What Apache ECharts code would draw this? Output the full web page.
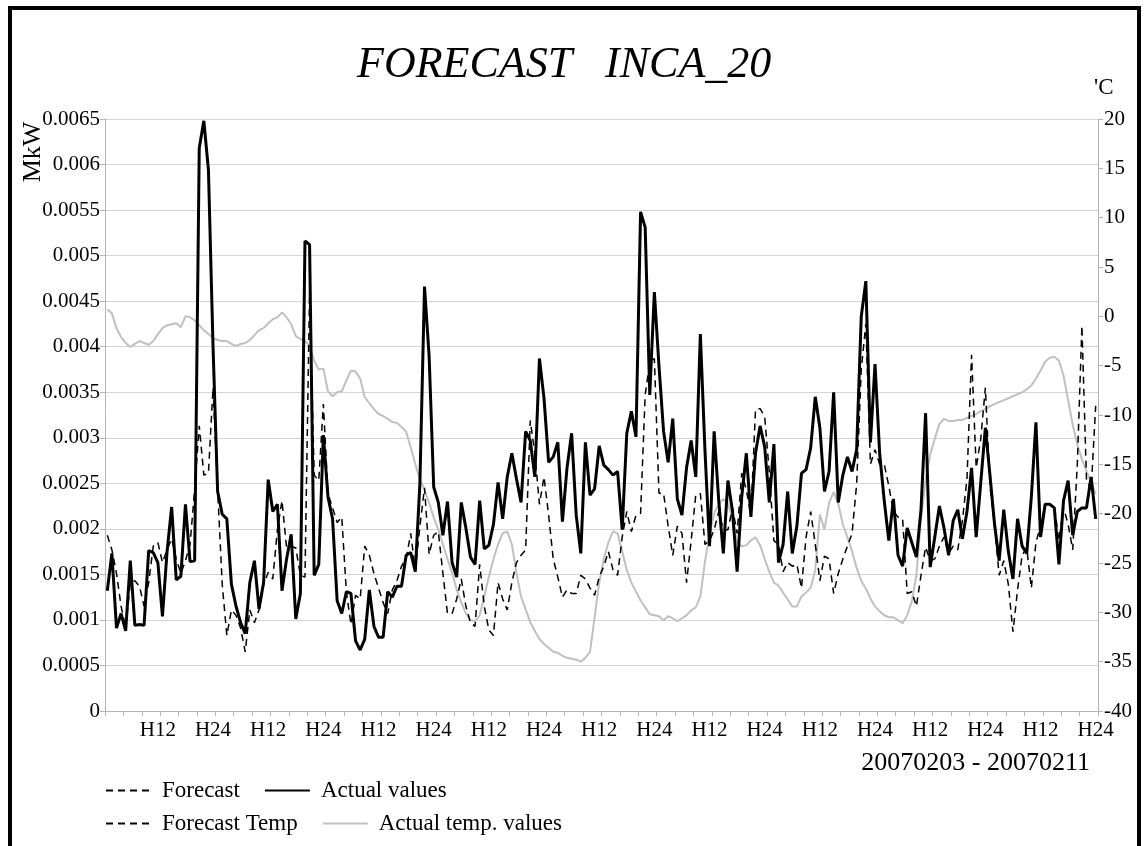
<!DOCTYPE html>
<html>
<head>
<meta charset="utf-8">
<script src="https://cdn.jsdelivr.net/npm/echarts@6/dist/echarts.min.js"></script>
<style>
html,body{margin:0;padding:0;background:#fff;}
#chart{width:1146px;height:846px;}
</style>
</head>
<body>
<div id="chart"></div>
<script>
// ---- data ----
const hourLabels = ['H1','H2','H3','H4','H5','H6','H7','H8','H9','H10','H11','H12',
  'H13','H14','H15','H16','H17','H18','H19','H20','H21','H22','H23','H24'];
const dayCount = 9; // 20070203 - 20070211
const categories = [];
for (let d = 0; d < dayCount; d++) hourLabels.forEach(h => categories.push(h));

const leftTicks = {min: 0, max: 0.0065, interval: 0.0005};
const rightTicks = {min: -40, max: 20, interval: 5};

const actualValues = [
0.00132,0.00173,0.00091,0.00107,0.00088,0.00165,0.00094,0.00095,0.00094,0.00176,
0.00174,0.00163,0.00104,0.00175,0.00224,0.00144,0.00148,0.00227,0.00164,0.00165,
0.00618,0.00648,0.00594,0.00400,0.00241,0.00216,0.00211,0.00139,0.00115,0.00097,
0.00085,0.00141,0.00165,0.00112,0.00141,0.00254,0.00219,0.00227,0.00132,0.00167,
0.00194,0.00101,0.00129,0.00516,0.00512,0.00149,0.00161,0.00303,0.00235,0.00211,
0.00121,0.00107,0.00131,0.00129,0.00077,0.00067,0.00079,0.00133,0.00093,0.00081,
0.00081,0.00131,0.00125,0.00137,0.00137,0.00171,0.00174,0.00153,0.00250,0.00466,
0.00390,0.00246,0.00229,0.00193,0.00230,0.00163,0.00147,0.00229,0.00201,0.00169,
0.00161,0.00231,0.00178,0.00182,0.00205,0.00251,0.00211,0.00257,0.00283,0.00255,
0.00229,0.00307,0.00297,0.00257,0.00387,0.00343,0.00273,0.00279,0.00295,0.00208,
0.00267,0.00305,0.00215,0.00173,0.00295,0.00237,0.00244,0.00291,0.00270,0.00265,
0.00259,0.00263,0.00199,0.00305,0.00329,0.00301,0.00548,0.00531,0.00347,0.00460,
0.00379,0.00307,0.00273,0.00321,0.00233,0.00215,0.00267,0.00297,0.00257,0.00414,
0.00287,0.00181,0.00307,0.00231,0.00173,0.00253,0.00219,0.00153,0.00235,0.00283,
0.00213,0.00283,0.00313,0.00290,0.00229,0.00293,0.00163,0.00183,0.00241,0.00173,
0.00203,0.00261,0.00265,0.00289,0.00345,0.00311,0.00241,0.00263,0.00350,0.00229,
0.00259,0.00279,0.00263,0.00287,0.00433,0.00472,0.00295,0.00381,0.00283,0.00231,
0.00187,0.00233,0.00171,0.00159,0.00201,0.00185,0.00169,0.00221,0.00327,0.00158,
0.00191,0.00225,0.00201,0.00171,0.00209,0.00221,0.00189,0.00219,0.00267,0.00191,
0.00251,0.00311,0.00259,0.00205,0.00165,0.00221,0.00175,0.00145,0.00211,0.00181,
0.00173,0.00235,0.00317,0.00191,0.00227,0.00227,0.00223,0.00161,0.00231,0.00253,
0.00193,0.00219,0.00223,0.00223,0.00257,0.00211
];

const forecastValues = [
0.00193,0.00177,0.00151,0.00115,0.00091,0.00141,0.00143,0.00137,0.00115,0.00141,
0.00181,0.00185,0.00163,0.00177,0.00189,0.00167,0.00151,0.00165,0.00183,0.00243,
0.00313,0.00259,0.00261,0.00355,0.00243,0.00139,0.00083,0.00111,0.00105,0.00091,
0.00065,0.00111,0.00097,0.00111,0.00139,0.00152,0.00145,0.00199,0.00231,0.00179,
0.00181,0.00179,0.00149,0.00147,0.00460,0.00259,0.00253,0.00337,0.00239,0.00223,
0.00207,0.00213,0.00131,0.00095,0.00127,0.00123,0.00181,0.00171,0.00151,0.00135,
0.00119,0.00107,0.00133,0.00143,0.00159,0.00167,0.00195,0.00155,0.00203,0.00245,
0.00172,0.00193,0.00197,0.00151,0.00107,0.00107,0.00123,0.00145,0.00115,0.00097,
0.00093,0.00161,0.00115,0.00089,0.00083,0.00141,0.00123,0.00111,0.00141,0.00163,
0.00171,0.00177,0.00319,0.00283,0.00227,0.00257,0.00215,0.00167,0.00147,0.00125,
0.00133,0.00129,0.00129,0.00149,0.00145,0.00135,0.00127,0.00147,0.00159,0.00175,
0.00155,0.00149,0.00191,0.00219,0.00197,0.00215,0.00217,0.00347,0.00383,0.00387,
0.00239,0.00239,0.00203,0.00171,0.00203,0.00195,0.00141,0.00187,0.00237,0.00239,
0.00183,0.00187,0.00199,0.00219,0.00199,0.00199,0.00223,0.00195,0.00261,0.00243,
0.00215,0.00331,0.00332,0.00323,0.00262,0.00187,0.00183,0.00153,0.00163,0.00159,
0.00161,0.00135,0.00191,0.00219,0.00183,0.00143,0.00170,0.00167,0.00129,0.00151,
0.00167,0.00181,0.00195,0.00249,0.00375,0.00425,0.00271,0.00287,0.00271,0.00271,
0.00247,0.00219,0.00213,0.00211,0.00129,0.00131,0.00115,0.00149,0.00180,0.00165,
0.00167,0.00181,0.00191,0.00173,0.00181,0.00177,0.00209,0.00255,0.00391,0.00267,
0.00299,0.00355,0.00247,0.00203,0.00149,0.00165,0.00139,0.00087,0.00133,0.00171,
0.00179,0.00135,0.00185,0.00203,0.00227,0.00227,0.00225,0.00187,0.00223,0.00205,
0.00177,0.00271,0.00423,0.00253,0.00243,0.00335
];

const forecastTempValues = []; // no visible forecast temperature line

const actualTempValues = [
0.7,0.3,-1.2,-2.1,-2.7,-3.1,-2.8,-2.5,-2.7,-2.9,
-2.5,-1.8,-1.2,-0.9,-0.8,-0.7,-1.1,0.0,-0.1,-0.4,
-0.9,-1.4,-1.8,-2.2,-2.4,-2.5,-2.5,-2.8,-3.0,-2.8,
-2.7,-2.4,-1.9,-1.4,-1.2,-0.7,-0.3,-0.1,0.4,-0.1,
-0.8,-2.0,-2.3,-2.5,-3.0,-4.5,-5.4,-5.3,-7.6,-8.1,
-7.7,-7.6,-6.5,-5.5,-5.6,-6.3,-8.2,-8.8,-9.4,-9.9,
-10.1,-10.4,-10.7,-10.8,-11.2,-11.7,-13.3,-15.0,-16.5,-17.6,
-18.9,-20.4,-21.6,-23.1,-24.6,-26.0,-27.7,-29.0,-30.1,-30.8,
-30.9,-30.3,-28.4,-26.4,-24.6,-23.1,-22.0,-21.8,-23.1,-26.0,
-28.4,-29.7,-31.0,-31.9,-32.7,-33.2,-33.6,-34.0,-34.1,-34.4,
-34.6,-34.7,-34.8,-35.0,-34.6,-34.0,-30.5,-27.0,-24.6,-22.9,
-21.8,-22.0,-23.8,-25.7,-27.0,-27.9,-28.8,-29.5,-30.2,-30.3,
-30.4,-30.8,-30.4,-30.6,-30.9,-30.6,-30.3,-29.8,-29.5,-28.4,
-24.9,-22.0,-20.0,-19.0,-18.5,-19.0,-20.5,-22.9,-23.3,-23.2,
-22.7,-22.4,-23.2,-24.6,-25.9,-27.0,-27.3,-28.0,-28.7,-29.4,
-29.4,-28.4,-28.0,-27.5,-25.7,-20.1,-21.6,-18.9,-17.8,-19.0,
-21.1,-22.4,-23.8,-25.5,-26.8,-27.6,-28.6,-29.4,-29.9,-30.3,
-30.5,-30.5,-30.8,-31.1,-30.3,-28.9,-26.2,-20.5,-16.5,-14.0,
-12.4,-10.9,-10.4,-10.6,-10.6,-10.5,-10.5,-10.3,-10.1,-9.9,
-9.6,-9.4,-9.1,-8.9,-8.7,-8.5,-8.3,-8.1,-7.9,-7.7,
-7.4,-7.0,-6.3,-5.5,-4.6,-4.2,-4.1,-4.5,-6.0,-8.5,
-11.0,-13.0,-14.5,-15.7,-16.8,-18.0
];

// ---- chart ----
const FONT = "'Liberation Serif', 'Times New Roman', serif";
const axisGrey = '#b4b4b4';
const gridGrey = '#d4d4d4';
const tempGrey = '#c0c0c0';

const legendBase = {
  left: 105, orient: 'horizontal', padding: 0,
  itemWidth: 45, itemHeight: 14, itemGap: 24,
  itemStyle: {opacity: 0},
  textStyle: {fontFamily: FONT, fontSize: 23, color: '#000', padding: [0, 0, 0, 6]}
};

const chart = echarts.init(document.getElementById('chart'), null, {renderer: 'canvas'});
chart.setOption({
  animation: false,
  backgroundColor: '#ffffff',
  textStyle: {fontFamily: FONT, color: '#000'},
  title: {
    text: 'FORECAST   INCA_20',
    left: 352, top: 38,
    textStyle: {fontFamily: FONT, fontStyle: 'italic', fontWeight: 'normal', fontSize: 44, color: '#000'}
  },
  grid: {left: 105, right: 48, top: 119, bottom: 135, containLabel: false},
  legend: [
    Object.assign({}, legendBase, {data: ['Forecast', 'Actual values'], top: 779}),
    Object.assign({}, legendBase, {data: ['Forecast Temp', 'Actual temp. values'], top: 812})
  ],
  xAxis: {
    type: 'category',
    data: categories,
    boundaryGap: true,
    axisLine: {show: true, lineStyle: {color: axisGrey, width: 1}},
    axisTick: {show: true, length: 5, lineStyle: {color: axisGrey},
      interval: (idx) => idx % 4 === 0},
    axisLabel: {
      interval: (idx) => (idx + 1) % 12 === 0,
      fontFamily: FONT, fontSize: 21, color: '#000', margin: 9
    },
    splitLine: {show: false}
  },
  yAxis: [
    {
      type: 'value', position: 'left',
      min: leftTicks.min, max: leftTicks.max, interval: leftTicks.interval,
      axisLine: {show: true, lineStyle: {color: axisGrey}},
      axisTick: {show: true, length: 5, lineStyle: {color: axisGrey}},
      axisLabel: {fontFamily: FONT, fontSize: 21, color: '#000', margin: 5,
        formatter: v => String(+v.toFixed(5))},
      splitLine: {show: true, lineStyle: {color: gridGrey, width: 1}}
    },
    {
      type: 'value', position: 'right',
      min: rightTicks.min, max: rightTicks.max, interval: rightTicks.interval,
      axisLine: {show: true, lineStyle: {color: axisGrey}},
      axisTick: {show: true, length: 5, lineStyle: {color: axisGrey}},
      axisLabel: {fontFamily: FONT, fontSize: 21, color: '#000', margin: 6},
      splitLine: {show: false}
    }
  ],
  series: [
    {
      name: 'Forecast', type: 'line', yAxisIndex: 0, data: forecastValues,
      symbol: 'none', z: 3,
      lineStyle: {color: '#000', width: 1.5, type: [7, 5]},
      itemStyle: {color: '#000'}
    },
    {
      name: 'Actual values', type: 'line', yAxisIndex: 0, data: actualValues,
      symbol: 'none', z: 4,
      lineStyle: {color: '#000', width: 3},
      itemStyle: {color: '#000'}
    },
    {
      name: 'Forecast Temp', type: 'line', yAxisIndex: 1, data: forecastTempValues,
      symbol: 'none', z: 2,
      lineStyle: {color: '#000', width: 1.5, type: [7, 5]},
      itemStyle: {color: '#000'}
    },
    {
      name: 'Actual temp. values', type: 'line', yAxisIndex: 1, data: actualTempValues,
      symbol: 'none', z: 1,
      lineStyle: {color: tempGrey, width: 2},
      itemStyle: {color: tempGrey}
    }
  ],
  graphic: [
    {type: 'rect', shape: {x: 10, y: 8, width: 1129, height: 900},
      style: {fill: 'none', stroke: '#000', lineWidth: 4}, silent: true, z: 100},
    {type: 'text', x: 33, y: 152, rotation: Math.PI / 2,
      style: {text: 'MkW', font: "26px 'Liberation Serif'", fill: '#000',
        textAlign: 'center', textVerticalAlign: 'middle'}},
    {type: 'text', left: 1094, top: 76,
      style: {text: "'C", font: "23px 'Liberation Serif'", fill: '#000'}},
    {type: 'text', right: 56, top: 750,
      style: {text: '20070203 - 20070211', font: "26px 'Liberation Serif'", fill: '#000'}}
  ]
});
</script>
</body>
</html>
